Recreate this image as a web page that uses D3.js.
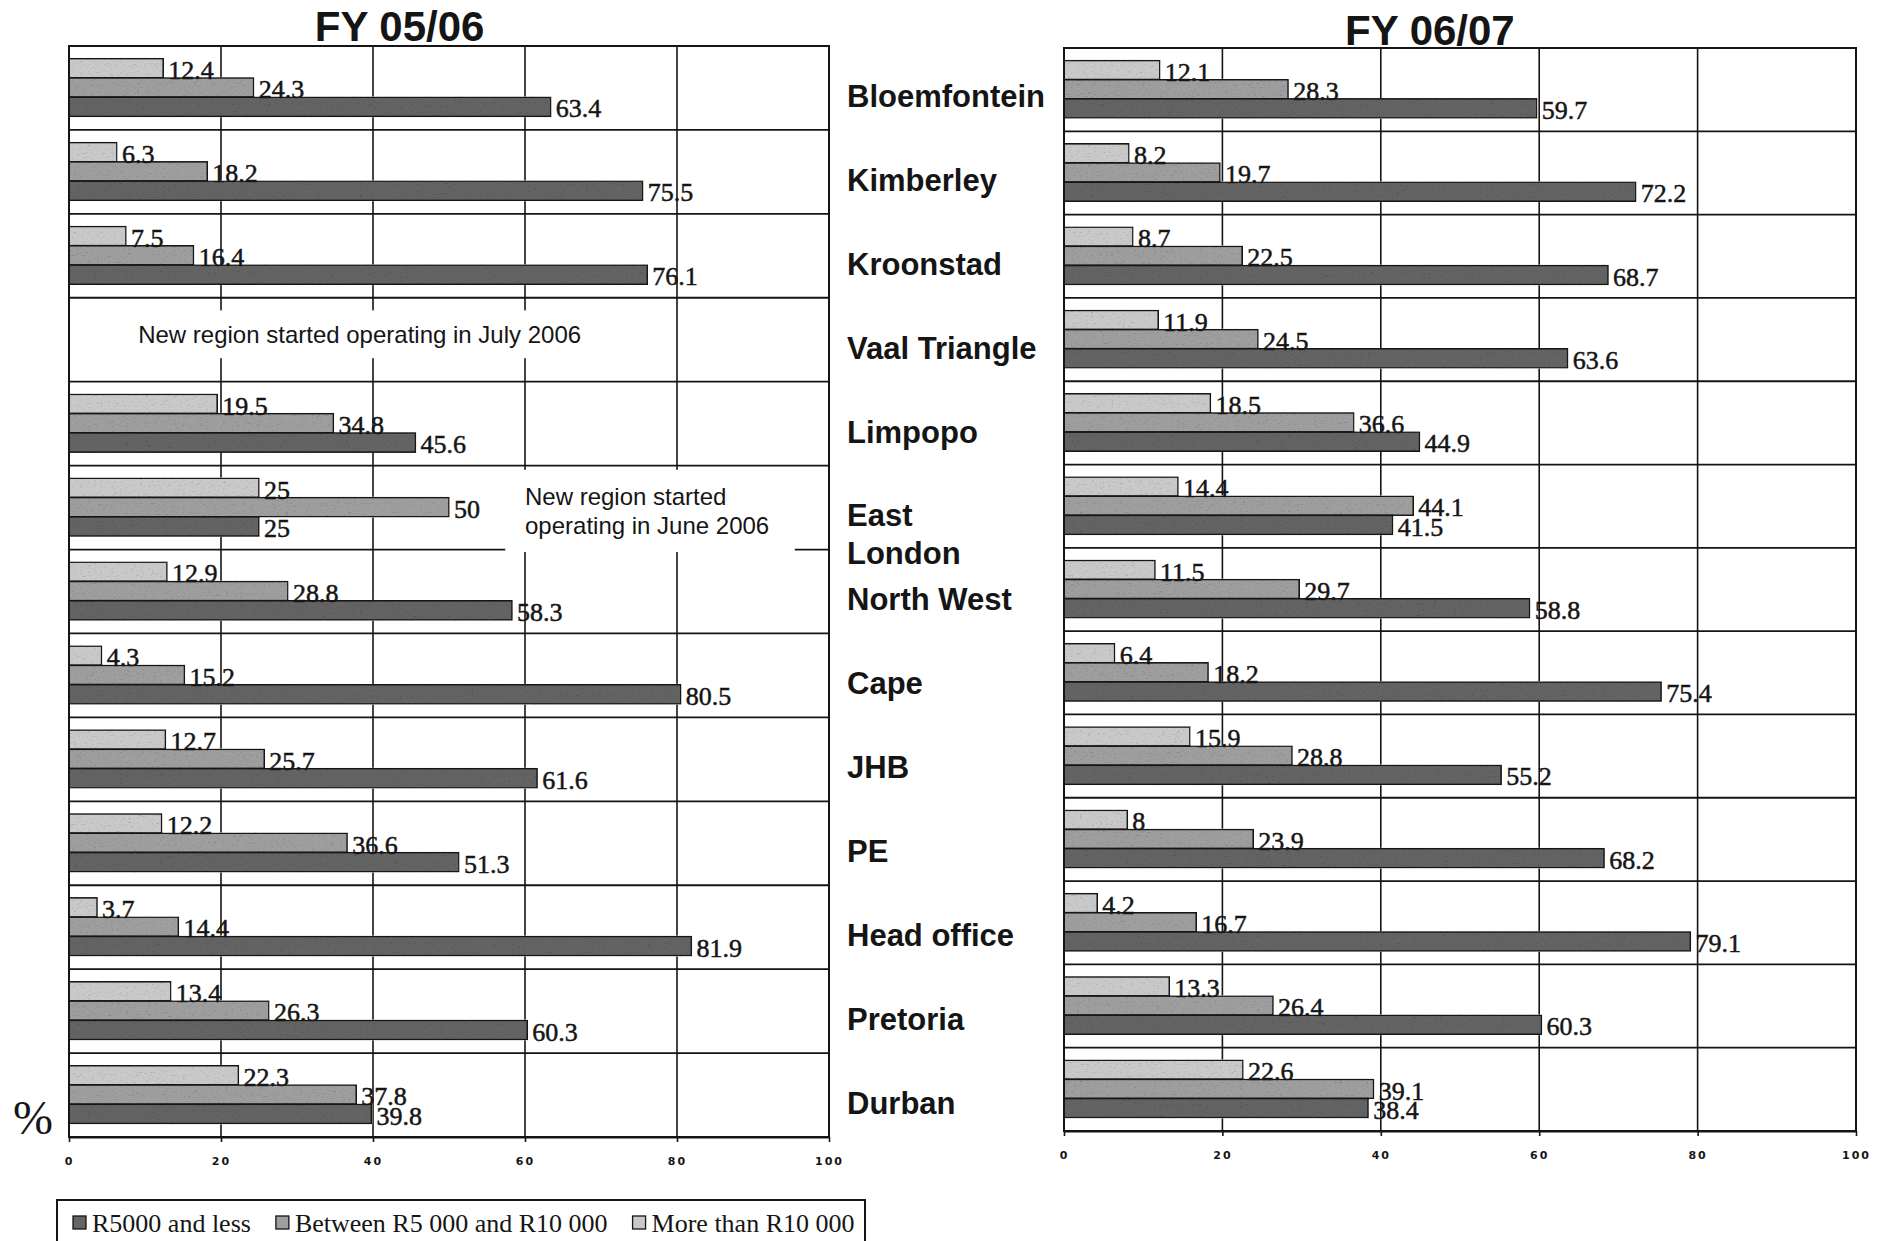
<!DOCTYPE html>
<html>
<head>
<meta charset="utf-8">
<script src="https://cdn.jsdelivr.net/npm/d3@7"></script>
<style>
  body { margin: 0; background: #fff; }
  svg { display: block; }
</style>
</head>
<body>
<svg id="chart" width="1897" height="1241"></svg>
<script>
// ---- data ---------------------------------------------------------------
const regions = ["Bloemfontein", "Kimberley", "Kroonstad", "Vaal Triangle", "Limpopo",
  "East\nLondon", "North West", "Cape", "JHB", "PE", "Head office", "Pretoria", "Durban"];

// bars are stacked top-to-bottom in this order inside each region
const seriesKeys = ["More than R10 000", "Between R5 000 and R10 000", "R5000 and less"];
const legendKeys = ["R5000 and less", "Between R5 000 and R10 000", "More than R10 000"];

// FY 05/06 (Vaal Triangle had not started yet)
const fy0506Over10k  = [12.4, 6.3, 7.5, null, 19.5, 25, 12.9, 4.3, 12.7, 12.2, 3.7, 13.4, 22.3];
const fy0506Between  = [24.3, 18.2, 16.4, null, 34.8, 50, 28.8, 15.2, 25.7, 36.6, 14.4, 26.3, 37.8];
const fy0506Under5k  = [63.4, 75.5, 76.1, null, 45.6, 25, 58.3, 80.5, 61.6, 51.3, 81.9, 60.3, 39.8];

// FY 06/07
const fy0607Over10k  = [12.1, 8.2, 8.7, 11.9, 18.5, 14.4, 11.5, 6.4, 15.9, 8, 4.2, 13.3, 22.6];
const fy0607Between  = [28.3, 19.7, 22.5, 24.5, 36.6, 44.1, 29.7, 18.2, 28.8, 23.9, 16.7, 26.4, 39.1];
const fy0607Under5k  = [59.7, 72.2, 68.7, 63.6, 44.9, 41.5, 58.8, 75.4, 55.2, 68.2, 79.1, 60.3, 38.4];

const xTicks = [0, 20, 40, 60, 80, 100];
const panelTitles = ["FY 05/06", "FY 06/07"];
const unitLabel = "%";

const noteTexts = [
  ["New region started operating in July 2006"],
  ["New region started", "operating in June 2006"]
];

// ---- styles ---------------------------------------------------------------
const barFill = {
  "More than R10 000": "#c9c9c9",
  "Between R5 000 and R10 000": "#9e9e9e",
  "R5000 and less": "#646464"
};
const ink = "#151515";
const sansFont = "'Liberation Sans', Arial, sans-serif";
const serifFont = "'Liberation Serif', 'Times New Roman', serif";

const W = 1897, H = 1241;
const svg = d3.select("#chart");
svg.append("rect").attr("width", W).attr("height", H).attr("fill", "#fff");

// grainy bar texture
const defs = svg.append("defs");
const grain = defs.append("filter").attr("id", "grain");
grain.append("feTurbulence").attr("type", "fractalNoise")
  .attr("baseFrequency", "0.35 0.9").attr("numOctaves", 2).attr("seed", 5).attr("result", "n");
grain.append("feColorMatrix").attr("in", "n").attr("type", "saturate").attr("values", 0).attr("result", "g");
const ct = grain.append("feComponentTransfer").attr("in", "g").attr("result", "g2");
["feFuncR", "feFuncG", "feFuncB"].forEach(k =>
  ct.append(k).attr("type", "linear").attr("slope", 1.4).attr("intercept", 0.38));
ct.append("feFuncA").attr("type", "linear").attr("slope", 0).attr("intercept", 1);
grain.append("feBlend").attr("in", "SourceGraphic").attr("in2", "g2").attr("mode", "multiply").attr("result", "b");
grain.append("feComposite").attr("in", "b").attr("in2", "SourceGraphic").attr("operator", "in");

// ---- panels ---------------------------------------------------------------
const panels = [
  {
    title: panelTitles[0], titleAt: 43.5, titleY: 41,
    series: [fy0506Over10k, fy0506Between, fy0506Under5k],
    frame: { x0: 69, x1: 829, y0: 46, y1: 1137 },
    notes: [
      { row: 3, lines: noteTexts[0], at: 9.1, cover: [0.15, 70], band: [0.15, 0.72], lineAt: [0.44] },
      { row: 5, lines: noteTexts[1], at: 60, cover: [57.4, 95.5], band: [0.05, 1.03], lineAt: [0.37, 0.72] }
    ]
  },
  {
    title: panelTitles[1], titleAt: 46.2, titleY: 45,
    series: [fy0607Over10k, fy0607Between, fy0607Under5k],
    frame: { x0: 1064, x1: 1856, y0: 48, y1: 1131 },
    notes: []
  }
];

let leftRowScale = null;

panels.forEach((p, pi) => {
  const g = svg.append("g");
  const x = d3.scaleLinear().domain([0, 100]).range([p.frame.x0, p.frame.x1]);
  const y = d3.scaleBand().domain(d3.range(regions.length)).range([p.frame.y0, p.frame.y1]);
  const bw = y.bandwidth();
  const inner = d3.scaleBand().domain(seriesKeys).range([0.15 * bw, 0.84 * bw]);
  if (pi === 0) leftRowScale = y;

  // row separators
  g.append("g").selectAll("line").data(d3.range(regions.length + 1)).join("line")
    .attr("x1", x(0)).attr("x2", x(100))
    .attr("y1", i => p.frame.y0 + i * bw).attr("y2", i => p.frame.y0 + i * bw)
    .attr("stroke", ink).attr("stroke-width", 1.8);

  // vertical grid
  g.append("g").selectAll("line").data(xTicks.slice(1, -1)).join("line")
    .attr("x1", d => x(d)).attr("x2", d => x(d))
    .attr("y1", p.frame.y0).attr("y2", p.frame.y1)
    .attr("stroke", ink).attr("stroke-width", 1.6);

  // notes on white boxes that hide the grid underneath
  p.notes.forEach(n => {
    const top = y(n.row);
    g.append("rect")
      .attr("x", x(n.cover[0])).attr("width", x(n.cover[1]) - x(n.cover[0]))
      .attr("y", top + n.band[0] * bw).attr("height", (n.band[1] - n.band[0]) * bw)
      .attr("fill", "#fff");
    n.lines.forEach((t, li) => {
      g.append("text")
        .attr("x", x(n.at)).attr("y", top + n.lineAt[li] * bw)
        .attr("dy", "0.35em")
        .attr("font-family", sansFont).attr("font-size", 24).attr("fill", ink)
        .text(t);
    });
  });

  // bars
  const rows = [];
  regions.forEach((r, i) => {
    seriesKeys.forEach((k, si) => {
      const v = p.series[si][i];
      if (v != null) rows.push({ i, k, v });
    });
  });

  g.append("g").attr("filter", "url(#grain)")
    .selectAll("rect").data(rows).join("rect")
    .attr("x", x(0))
    .attr("y", d => y(d.i) + inner(d.k))
    .attr("width", d => x(d.v) - x(0))
    .attr("height", inner.bandwidth())
    .attr("fill", d => barFill[d.k])
    .attr("stroke", ink).attr("stroke-width", 1.6);

  // value labels
  g.append("g").selectAll("text").data(rows).join("text")
    .attr("x", d => x(d.v) + 5)
    .attr("y", d => y(d.i) + inner(d.k) + inner.bandwidth() + 1)
    .attr("font-family", serifFont).attr("font-size", 26).attr("fill", ink)
    .attr("stroke", ink).attr("stroke-width", 0.5)
    .text(d => String(d.v));

  // frame
  g.append("rect")
    .attr("x", p.frame.x0).attr("y", p.frame.y0)
    .attr("width", p.frame.x1 - p.frame.x0).attr("height", p.frame.y1 - p.frame.y0)
    .attr("fill", "none").attr("stroke", ink).attr("stroke-width", 2);

  // x axis
  const ax = g.append("g").attr("transform", `translate(0,${p.frame.y1})`)
    .call(d3.axisBottom(x).tickValues(xTicks).tickSizeInner(5).tickSizeOuter(0).tickPadding(15));
  ax.select(".domain").attr("stroke", ink).attr("stroke-width", 2);
  ax.selectAll(".tick line").attr("stroke", ink).attr("stroke-width", 1.6);
  ax.selectAll(".tick text")
    .attr("font-family", "'DejaVu Sans', sans-serif").attr("font-weight", "bold")
    .attr("font-size", 11).attr("letter-spacing", "2px").attr("fill", ink);

  // title
  g.append("text")
    .attr("x", x(p.titleAt)).attr("y", p.titleY)
    .attr("text-anchor", "middle")
    .attr("font-family", sansFont).attr("font-weight", "bold").attr("font-size", 42)
    .attr("fill", ink)
    .text(p.title);
});

// ---- region names between the panels -------------------------------------
const nameG = svg.append("g");
regions.forEach((r, i) => {
  const c = leftRowScale(i) + leftRowScale.bandwidth() / 2;
  r.split("\n").forEach((t, li) => {
    nameG.append("text")
      .attr("x", 847).attr("y", c + 8 + li * 38)
      .attr("dy", "0.35em")
      .attr("font-family", sansFont).attr("font-weight", "bold").attr("font-size", 31)
      .attr("fill", ink)
      .text(t);
  });
});

// unit sign
svg.append("text")
  .attr("x", 13).attr("y", 1134)
  .attr("font-family", serifFont).attr("font-size", 48).attr("fill", ink)
  .text(unitLabel);

// ---- legend ----------------------------------------------------------------
const lg = svg.append("g");
lg.append("rect")
  .attr("x", 57).attr("y", 1200).attr("width", 808).attr("height", 70)
  .attr("fill", "#fff").attr("stroke", ink).attr("stroke-width", 2);
let lx = 73;
legendKeys.forEach(k => {
  lg.append("rect")
    .attr("x", lx).attr("y", 1216).attr("width", 13).attr("height", 13)
    .attr("fill", barFill[k]).attr("stroke", ink).attr("stroke-width", 1.3);
  const t = lg.append("text")
    .attr("x", lx + 19).attr("y", 1232)
    .attr("font-family", serifFont).attr("font-size", 26).attr("fill", ink)
    .text(k);
  lx += 19 + t.node().getComputedTextLength() + 25;
});
</script>
</body>
</html>
